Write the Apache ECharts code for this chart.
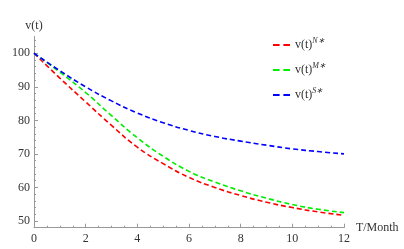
<!DOCTYPE html>
<html><head><meta charset="utf-8">
<script src="https://cdn.jsdelivr.net/npm/echarts@6/dist/echarts.min.js"></script>
<style>html,body{margin:0;padding:0;background:#fff}#c{width:404px;height:249px}</style>
</head><body><div id="c"></div>
<script>
var months = [0,1,2,3,4,5,6,7,8,9,10,11,12];
var vN = [100,92.6,85.5,78.5,72.0,67.1,63.0,60.0,57.6,55.6,54.0,52.7,51.7];
var vM = [100,94.4,88.3,81.4,74.8,69.3,64.8,61.6,59.0,56.8,54.9,53.5,52.5];
var vS = [100,94.8,90.0,85.8,82.2,79.3,77.0,75.2,73.8,72.6,71.5,70.7,70.0];
var yTicks = [50,60,70,80,90,100];
var yMinor = [48,52,54,56,58,62,64,66,68,72,74,76,78,82,84,86,88,92,94,96,98,102,104];

var font = 'Liberation Serif';
var axisColor = '#999';
function pts(v){ return months.map(function(m,i){return [m,v[i]];}); }
function ser(name, data, color){
  return {name:name, type:'line', data:pts(data), smooth:true, symbol:'none',
    lineStyle:{color:color, width:1.6, type:[5,3]}, itemStyle:{color:color}};
}
var rich = {a:{fontFamily:font,fontSize:12,color:'#333'}, b:{fontFamily:font,fontSize:8,fontStyle:'italic',color:'#333',padding:[0,0,8,0]}};
var dashIcon = 'path://M0,0h7v2h-7z M11,0h7v2h-7z';
var chart = echarts.init(document.getElementById('c'));
chart.setOption({
  animation:false,
  grid:{left:34,right:60,top:36.5,bottom:21.3},
  legend:{orient:'vertical',left:268,top:32,itemWidth:17,itemHeight:2,itemGap:11,
    icon:dashIcon,
    textStyle:{rich:rich},
    formatter:function(n){ return '{a|v(t)}{b|'+n+'}'; },
    data:['N\u2217','M\u2217','S\u2217']},
  xAxis:{type:'value',min:0,max:12,interval:2,
    name:'T/Month',nameLocation:'end',nameGap:9,
    nameTextStyle:{fontFamily:font,fontSize:12,color:'#333',padding:[0,0,6,0]},
    axisLine:{lineStyle:{color:axisColor}},
    axisTick:{inside:true,length:4,lineStyle:{color:axisColor}},
    minorTick:{show:true,splitNumber:4,length:2,lineStyle:{color:axisColor}},
    axisLabel:{fontFamily:font,fontSize:12,color:'#333',margin:5},
    splitLine:{show:false}},
  yAxis:[{type:'value',min:48,max:105,
    name:'v(t)',nameLocation:'end',nameGap:5,
    nameTextStyle:{fontFamily:font,fontSize:12,color:'#333'},
    axisLine:{show:true,lineStyle:{color:axisColor}},
    axisTick:{show:true,inside:true,length:4,customValues:yTicks,lineStyle:{color:axisColor}},
    axisLabel:{fontFamily:font,fontSize:12,color:'#333',margin:4,customValues:yTicks},
    splitLine:{show:false}},
   {type:'value',min:48,max:105,position:'left',
    axisLine:{show:false},
    axisTick:{show:true,inside:true,length:2,customValues:yMinor,lineStyle:{color:axisColor}},
    axisLabel:{show:false},splitLine:{show:false}}],
  series:[ser('N\u2217',vN,'#ff0000'),ser('M\u2217',vM,'#00ee00'),ser('S\u2217',vS,'#0000ff')]
});
</script></body></html>
